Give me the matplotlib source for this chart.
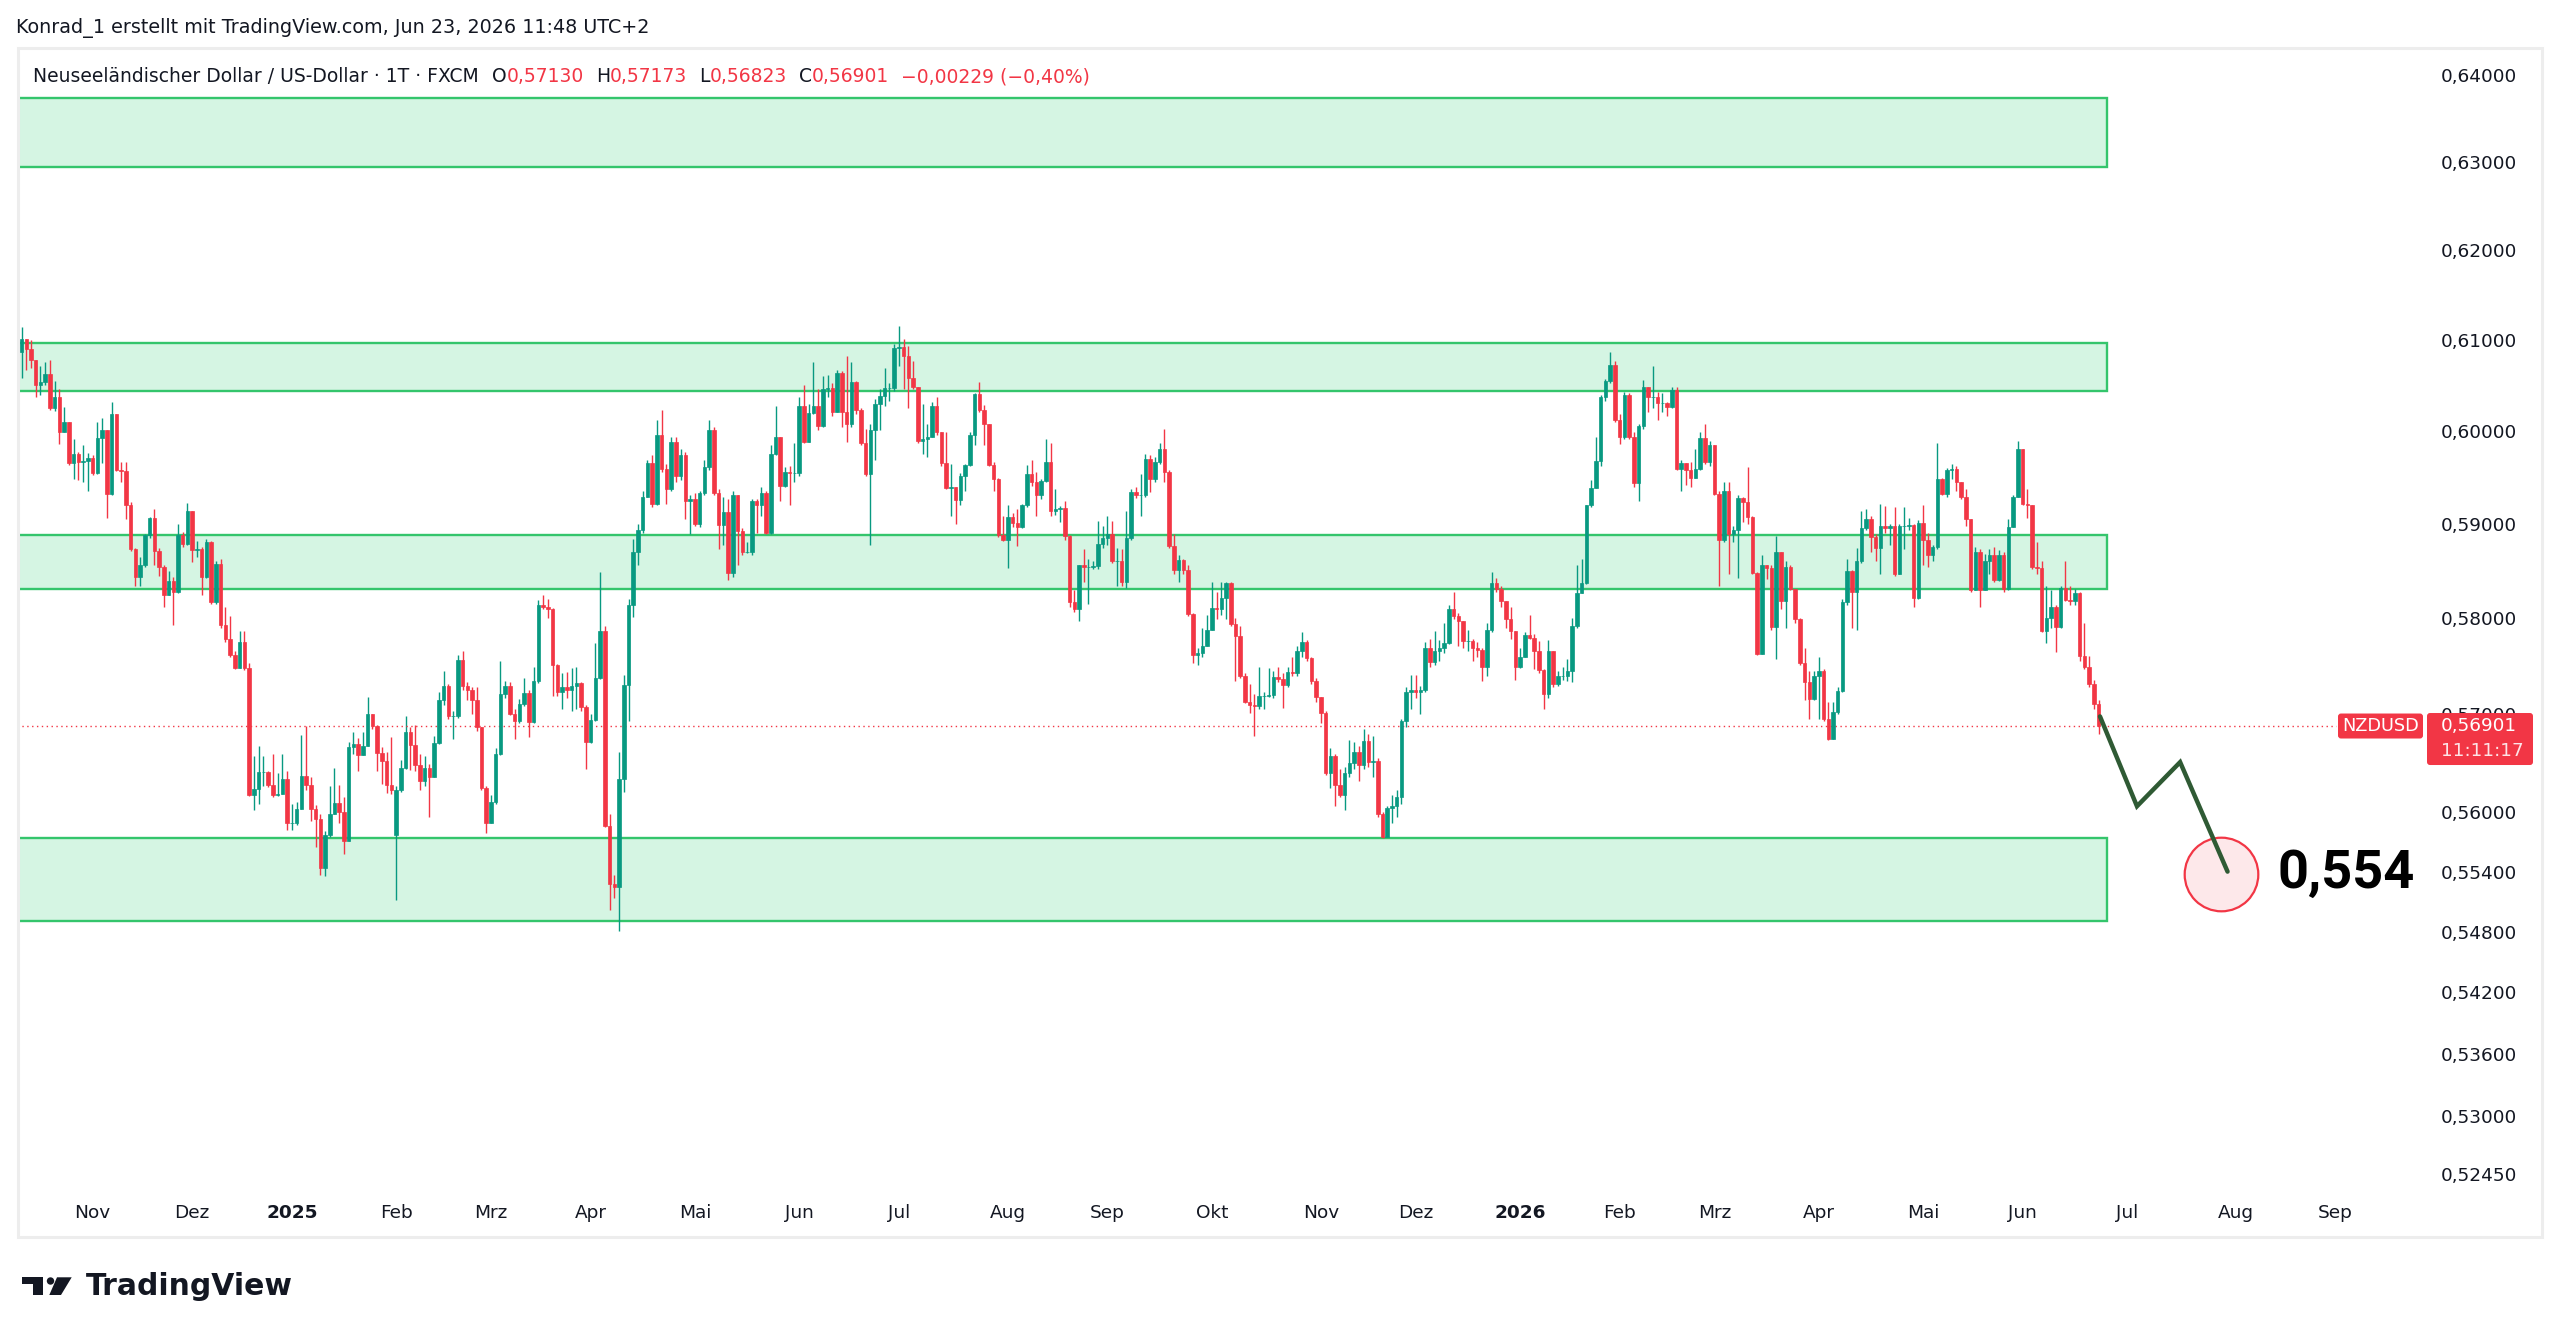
import numpy as np
import pandas as pd
import matplotlib
matplotlib.use('Agg')
import matplotlib.pyplot as plt
from matplotlib import transforms
from matplotlib.patches import Rectangle, FancyBboxPatch, Circle, Polygon

plt.rcParams['font.family'] = ['DejaVu Sans']

W, H = 2560, 1344

# ---------------- data (NZDUSD, 1T, FXCM) ----------------
start_date = '2024-10-11'
end_date = '2026-06-23'
holidays = ['2024-12-25', '2025-01-01', '2025-12-25', '2026-01-01']

first_open = 0.6089
gap_opens = {79: 0.5579}  # Montag-Gap (Feb 2025)

closes = [
    0.6103, 0.6092, 0.6080, 0.6053, 0.6056, 0.6065, 0.6027, 0.6039, 0.6001, 0.6012,
    0.5968, 0.5977, 0.5969, 0.5970, 0.5973, 0.5957, 0.5995, 0.6003, 0.5934, 0.6021,
    0.5960, 0.5959, 0.5922, 0.5876, 0.5846, 0.5858, 0.5890, 0.5909, 0.5873, 0.5856,
    0.5827, 0.5842, 0.5830, 0.5890, 0.5881, 0.5916, 0.5874, 0.5876, 0.5846, 0.5883,
    0.5819, 0.5860, 0.5795, 0.5780, 0.5764, 0.5750, 0.5777, 0.5750, 0.5619, 0.5626,
    0.5643, 0.5643, 0.5630, 0.5619, 0.5620, 0.5636, 0.5591, 0.5591, 0.5605, 0.5639,
    0.5630, 0.5605, 0.5595, 0.5546, 0.5579, 0.5600, 0.5611, 0.5602, 0.5573, 0.5668,
    0.5672, 0.5660, 0.5670, 0.5702, 0.5690, 0.5662, 0.5654, 0.5630, 0.5625, 0.5625,
    0.5647, 0.5684, 0.5671, 0.5650, 0.5634, 0.5647, 0.5638, 0.5673, 0.5717, 0.5732,
    0.5700, 0.5700, 0.5759, 0.5732, 0.5727, 0.5717, 0.5689, 0.5627, 0.5591, 0.5612,
    0.5661, 0.5723, 0.5732, 0.5702, 0.5695, 0.5713, 0.5724, 0.5694, 0.5737, 0.5816,
    0.5814, 0.5812, 0.5753, 0.5725, 0.5730, 0.5727, 0.5732, 0.5735, 0.5710, 0.5674,
    0.5696, 0.5740, 0.5789, 0.5588, 0.5530, 0.5527, 0.5636, 0.5733, 0.5816, 0.5872,
    0.5896, 0.5931, 0.5968, 0.5924, 0.5998, 0.5961, 0.5940, 0.5990, 0.5954, 0.5976,
    0.5927, 0.5929, 0.5902, 0.5935, 0.5963, 0.6004, 0.5935, 0.5901, 0.5915, 0.5850,
    0.5933, 0.5895, 0.5872, 0.5872, 0.5927, 0.5922, 0.5935, 0.5893, 0.5978, 0.5996,
    0.5943, 0.5958, 0.5957, 0.5957, 0.6030, 0.5991, 0.6022, 0.6030, 0.6008, 0.6048,
    0.6049, 0.6023, 0.6066, 0.6023, 0.6010, 0.6056, 0.6025, 0.5989, 0.5956, 0.6003,
    0.6032, 0.6041, 0.6049, 0.6049, 0.6093, 0.6095, 0.6084, 0.6060, 0.6050, 0.5992,
    0.5994, 0.5996, 0.6030, 0.6001, 0.5968, 0.5941, 0.5942, 0.5928, 0.5954, 0.5966,
    0.5998, 0.6043, 0.6025, 0.6010, 0.5966, 0.5951, 0.5890, 0.5885, 0.5910, 0.5903,
    0.5899, 0.5922, 0.5956, 0.5947, 0.5933, 0.5948, 0.5969, 0.5916, 0.5918, 0.5919,
    0.5889, 0.5819, 0.5812, 0.5858, 0.5856, 0.5856, 0.5857, 0.5881, 0.5887, 0.5892,
    0.5863, 0.5863, 0.5841, 0.5887, 0.5937, 0.5933, 0.5933, 0.5972, 0.5950, 0.5969,
    0.5983, 0.5958, 0.5879, 0.5853, 0.5864, 0.5853, 0.5807, 0.5764, 0.5766, 0.5773,
    0.5790, 0.5813, 0.5812, 0.5824, 0.5839, 0.5796, 0.5784, 0.5742, 0.5715, 0.5712,
    0.5711, 0.5721, 0.5721, 0.5722, 0.5741, 0.5739, 0.5733, 0.5746, 0.5745, 0.5768,
    0.5777, 0.5761, 0.5737, 0.5720, 0.5704, 0.5642, 0.5659, 0.5630, 0.5619, 0.5642,
    0.5652, 0.5663, 0.5650, 0.5675, 0.5653, 0.5654, 0.5600, 0.5577, 0.5606, 0.5608,
    0.5617, 0.5695, 0.5725, 0.5727, 0.5725, 0.5727, 0.5771, 0.5756, 0.5768, 0.5771,
    0.5776, 0.5812, 0.5805, 0.5799, 0.5778, 0.5778, 0.5771, 0.5769, 0.5751, 0.5790,
    0.5839, 0.5833, 0.5820, 0.5801, 0.5789, 0.5751, 0.5762, 0.5785, 0.5782, 0.5768,
    0.5748, 0.5723, 0.5768, 0.5734, 0.5742, 0.5742, 0.5747, 0.5794, 0.5829, 0.5839,
    0.5922, 0.5941, 0.5970, 0.6040, 0.6057, 0.6075, 0.6014, 0.5996, 0.6042, 0.5996,
    0.5946, 0.6008, 0.6050, 0.6040, 0.6040, 0.6033, 0.6033, 0.6029, 0.6047, 0.5961,
    0.5968, 0.5960, 0.5952, 0.5961, 0.5995, 0.5969, 0.5987, 0.5934, 0.5885, 0.5938,
    0.5892, 0.5896, 0.5930, 0.5926, 0.5910, 0.5850, 0.5765, 0.5858, 0.5855, 0.5793,
    0.5872, 0.5820, 0.5856, 0.5833, 0.5802, 0.5755, 0.5736, 0.5718, 0.5742, 0.5747,
    0.5697, 0.5677, 0.5705, 0.5726, 0.5819, 0.5852, 0.5830, 0.5863, 0.5898, 0.5907,
    0.5888, 0.5877, 0.5900, 0.5898, 0.5900, 0.5849, 0.5900, 0.5900, 0.5901, 0.5824,
    0.5903, 0.5885, 0.5869, 0.5878, 0.5951, 0.5934, 0.5960, 0.5961, 0.5947, 0.5931,
    0.5908, 0.5832, 0.5872, 0.5832, 0.5863, 0.5869, 0.5843, 0.5869, 0.5833, 0.5899,
    0.5931, 0.5983, 0.5924, 0.5923, 0.5856, 0.5855, 0.5789, 0.5803, 0.5814, 0.5793,
    0.5834, 0.5822, 0.5820, 0.5829, 0.5763, 0.5751, 0.5734, 0.5713, 0.56901,
]

highs = [
    0.6117, 0.6101, 0.6102, 0.6078, 0.6073, 0.6078, 0.6080, 0.6057, 0.6048, 0.6029,
    0.6012, 0.5994, 0.5980, 0.5987, 0.5979, 0.5976, 0.6012, 0.6017, 0.6003, 0.6034,
    0.6021, 0.5969, 0.5969, 0.5926, 0.5877, 0.5867, 0.5891, 0.5910, 0.5918, 0.5877,
    0.5858, 0.5852, 0.5846, 0.5902, 0.5894, 0.5925, 0.5907, 0.5884, 0.5878, 0.5886,
    0.5884, 0.5863, 0.5865, 0.5814, 0.5805, 0.5768, 0.5789, 0.5789, 0.5755, 0.5659,
    0.5670, 0.5659, 0.5644, 0.5661, 0.5642, 0.5661, 0.5644, 0.5610, 0.5612, 0.5681,
    0.5690, 0.5638, 0.5609, 0.5600, 0.5583, 0.5629, 0.5647, 0.5630, 0.5617, 0.5674,
    0.5684, 0.5678, 0.5684, 0.5720, 0.5702, 0.5691, 0.5668, 0.5663, 0.5679, 0.5629,
    0.5655, 0.5700, 0.5689, 0.5691, 0.5661, 0.5659, 0.5651, 0.5680, 0.5725, 0.5747,
    0.5734, 0.5706, 0.5764, 0.5768, 0.5736, 0.5730, 0.5730, 0.5689, 0.5629, 0.5619,
    0.5667, 0.5757, 0.5737, 0.5736, 0.5708, 0.5718, 0.5740, 0.5727, 0.5751, 0.5822,
    0.5827, 0.5823, 0.5813, 0.5754, 0.5745, 0.5746, 0.5750, 0.5751, 0.5736, 0.5712,
    0.5702, 0.5776, 0.5851, 0.5794, 0.5600, 0.5539, 0.5663, 0.5743, 0.5823, 0.5886,
    0.5902, 0.5938, 0.5971, 0.5976, 0.6014, 0.6025, 0.5967, 0.5996, 0.5996, 0.5983,
    0.5980, 0.5933, 0.5935, 0.5938, 0.5971, 0.6014, 0.6007, 0.5940, 0.5931, 0.5929,
    0.5938, 0.5914, 0.5898, 0.5883, 0.5929, 0.5929, 0.5942, 0.5938, 0.5987, 0.6030,
    0.5996, 0.5963, 0.5965, 0.5989, 0.6040, 0.6053, 0.6032, 0.6078, 0.6048, 0.6063,
    0.6064, 0.6055, 0.6069, 0.6068, 0.6085, 0.6078, 0.6057, 0.6028, 0.6005, 0.6010,
    0.6037, 0.6048, 0.6071, 0.6055, 0.6098, 0.6118, 0.6103, 0.6096, 0.6079, 0.6050,
    0.6032, 0.6010, 0.6034, 0.6040, 0.5987, 0.6001, 0.5967, 0.5940, 0.5957, 0.5967,
    0.6001, 0.6044, 0.6056, 0.6031, 0.6010, 0.5969, 0.5952, 0.5911, 0.5922, 0.5914,
    0.5918, 0.5924, 0.5966, 0.5971, 0.5958, 0.5951, 0.5994, 0.5989, 0.5940, 0.5921,
    0.5927, 0.5890, 0.5832, 0.5859, 0.5876, 0.5865, 0.5863, 0.5905, 0.5900, 0.5911,
    0.5905, 0.5877, 0.5876, 0.5916, 0.5940, 0.5942, 0.5956, 0.5978, 0.5976, 0.5974,
    0.5989, 0.6005, 0.5960, 0.5891, 0.5869, 0.5865, 0.5858, 0.5808, 0.5771, 0.5792,
    0.5806, 0.5840, 0.5830, 0.5841, 0.5841, 0.5841, 0.5803, 0.5794, 0.5745, 0.5734,
    0.5723, 0.5751, 0.5725, 0.5750, 0.5747, 0.5751, 0.5745, 0.5751, 0.5762, 0.5773,
    0.5788, 0.5779, 0.5762, 0.5740, 0.5719, 0.5706, 0.5667, 0.5661, 0.5646, 0.5648,
    0.5676, 0.5674, 0.5670, 0.5687, 0.5682, 0.5680, 0.5657, 0.5602, 0.5608, 0.5619,
    0.5625, 0.5697, 0.5730, 0.5743, 0.5743, 0.5732, 0.5777, 0.5781, 0.5789, 0.5779,
    0.5797, 0.5816, 0.5830, 0.5808, 0.5793, 0.5790, 0.5780, 0.5777, 0.5771, 0.5797,
    0.5851, 0.5845, 0.5836, 0.5820, 0.5814, 0.5789, 0.5771, 0.5788, 0.5806, 0.5786,
    0.5778, 0.5749, 0.5779, 0.5768, 0.5747, 0.5751, 0.5760, 0.5803, 0.5858, 0.5865,
    0.5923, 0.5949, 0.5996, 0.6042, 0.6059, 0.6089, 0.6079, 0.6021, 0.6045, 0.6044,
    0.6001, 0.6010, 0.6058, 0.6050, 0.6073, 0.6045, 0.6044, 0.6034, 0.6050, 0.6050,
    0.5971, 0.5967, 0.5969, 0.5983, 0.6001, 0.6010, 0.5992, 0.5951, 0.5938, 0.5947,
    0.5947, 0.5900, 0.5933, 0.5931, 0.5963, 0.5911, 0.5851, 0.5869, 0.5858, 0.5858,
    0.5889, 0.5872, 0.5863, 0.5858, 0.5823, 0.5803, 0.5771, 0.5747, 0.5747, 0.5762,
    0.5749, 0.5715, 0.5715, 0.5730, 0.5823, 0.5865, 0.5853, 0.5877, 0.5916, 0.5918,
    0.5911, 0.5891, 0.5924, 0.5921, 0.5902, 0.5920, 0.5902, 0.5920, 0.5909, 0.5902,
    0.5906, 0.5922, 0.5893, 0.5880, 0.5989, 0.5952, 0.5962, 0.5967, 0.5965, 0.5947,
    0.5940, 0.5908, 0.5878, 0.5876, 0.5870, 0.5876, 0.5878, 0.5874, 0.5872, 0.5907,
    0.5933, 0.5992, 0.5983, 0.5940, 0.5922, 0.5883, 0.5863, 0.5836, 0.5832, 0.5816,
    0.5836, 0.5863, 0.5836, 0.5833, 0.5830, 0.5797, 0.5763, 0.5738, 0.57173,
]

lows = [
    0.6060, 0.6069, 0.6071, 0.6039, 0.6042, 0.6053, 0.6025, 0.6024, 0.5988, 0.6001,
    0.5966, 0.5951, 0.5949, 0.5947, 0.5938, 0.5955, 0.5956, 0.5968, 0.5909, 0.5933,
    0.5959, 0.5947, 0.5907, 0.5873, 0.5836, 0.5836, 0.5856, 0.5887, 0.5858, 0.5847,
    0.5814, 0.5832, 0.5795, 0.5829, 0.5878, 0.5880, 0.5862, 0.5867, 0.5827, 0.5845,
    0.5817, 0.5817, 0.5792, 0.5777, 0.5762, 0.5749, 0.5751, 0.5748, 0.5618, 0.5604,
    0.5610, 0.5629, 0.5628, 0.5617, 0.5618, 0.5621, 0.5584, 0.5584, 0.5589, 0.5605,
    0.5625, 0.5593, 0.5567, 0.5539, 0.5538, 0.5577, 0.5600, 0.5591, 0.5560, 0.5586,
    0.5661, 0.5644, 0.5660, 0.5670, 0.5687, 0.5644, 0.5631, 0.5621, 0.5620, 0.5514,
    0.5623, 0.5646, 0.5645, 0.5644, 0.5625, 0.5629, 0.5597, 0.5638, 0.5672, 0.5712,
    0.5697, 0.5677, 0.5698, 0.5727, 0.5717, 0.5702, 0.5685, 0.5625, 0.5581, 0.5591,
    0.5610, 0.5660, 0.5719, 0.5701, 0.5677, 0.5693, 0.5711, 0.5679, 0.5693, 0.5735,
    0.5812, 0.5803, 0.5721, 0.5721, 0.5708, 0.5719, 0.5706, 0.5708, 0.5706, 0.5646,
    0.5673, 0.5695, 0.5739, 0.5587, 0.5504, 0.5516, 0.5483, 0.5623, 0.5695, 0.5804,
    0.5858, 0.5893, 0.5933, 0.5920, 0.5922, 0.5958, 0.5924, 0.5938, 0.5947, 0.5949,
    0.5907, 0.5891, 0.5900, 0.5899, 0.5933, 0.5960, 0.5933, 0.5876, 0.5880, 0.5843,
    0.5846, 0.5858, 0.5869, 0.5871, 0.5869, 0.5893, 0.5911, 0.5891, 0.5891, 0.5976,
    0.5927, 0.5942, 0.5922, 0.5947, 0.5954, 0.5989, 0.5991, 0.6021, 0.6003, 0.6007,
    0.6039, 0.6019, 0.6023, 0.6007, 0.5991, 0.6007, 0.6021, 0.5987, 0.5954, 0.5880,
    0.5971, 0.6003, 0.6030, 0.6035, 0.6046, 0.6074, 0.6048, 0.6028, 0.6048, 0.5989,
    0.5977, 0.5974, 0.5996, 0.5998, 0.5965, 0.5940, 0.5911, 0.5902, 0.5922, 0.5938,
    0.5965, 0.5987, 0.6023, 0.5987, 0.5965, 0.5938, 0.5888, 0.5884, 0.5855, 0.5899,
    0.5879, 0.5898, 0.5920, 0.5943, 0.5911, 0.5929, 0.5947, 0.5911, 0.5912, 0.5904,
    0.5885, 0.5814, 0.5809, 0.5799, 0.5841, 0.5817, 0.5854, 0.5854, 0.5877, 0.5880,
    0.5861, 0.5836, 0.5836, 0.5834, 0.5885, 0.5930, 0.5911, 0.5931, 0.5937, 0.5947,
    0.5967, 0.5947, 0.5877, 0.5849, 0.5841, 0.5849, 0.5805, 0.5755, 0.5753, 0.5762,
    0.5773, 0.5790, 0.5802, 0.5806, 0.5802, 0.5794, 0.5737, 0.5740, 0.5714, 0.5704,
    0.5680, 0.5708, 0.5708, 0.5720, 0.5719, 0.5736, 0.5709, 0.5730, 0.5742, 0.5742,
    0.5762, 0.5758, 0.5734, 0.5715, 0.5693, 0.5640, 0.5627, 0.5608, 0.5617, 0.5604,
    0.5638, 0.5646, 0.5634, 0.5646, 0.5648, 0.5638, 0.5597, 0.5576, 0.5579, 0.5591,
    0.5597, 0.5610, 0.5689, 0.5708, 0.5719, 0.5702, 0.5725, 0.5751, 0.5753, 0.5757,
    0.5766, 0.5775, 0.5802, 0.5773, 0.5771, 0.5768, 0.5757, 0.5762, 0.5737, 0.5742,
    0.5788, 0.5830, 0.5814, 0.5792, 0.5781, 0.5738, 0.5750, 0.5762, 0.5780, 0.5749,
    0.5745, 0.5708, 0.5719, 0.5730, 0.5732, 0.5738, 0.5737, 0.5736, 0.5792, 0.5830,
    0.5838, 0.5920, 0.5949, 0.5965, 0.6035, 0.6055, 0.6012, 0.5988, 0.5994, 0.5994,
    0.5942, 0.5927, 0.6005, 0.6023, 0.6027, 0.6014, 0.6023, 0.6019, 0.6027, 0.5960,
    0.5938, 0.5944, 0.5942, 0.5957, 0.5960, 0.5967, 0.5965, 0.5933, 0.5836, 0.5883,
    0.5849, 0.5883, 0.5845, 0.5904, 0.5902, 0.5849, 0.5764, 0.5774, 0.5844, 0.5790,
    0.5760, 0.5812, 0.5792, 0.5832, 0.5797, 0.5753, 0.5717, 0.5697, 0.5717, 0.5697,
    0.5695, 0.5676, 0.5682, 0.5702, 0.5725, 0.5816, 0.5792, 0.5790, 0.5861, 0.5896,
    0.5872, 0.5863, 0.5849, 0.5893, 0.5880, 0.5847, 0.5863, 0.5876, 0.5896, 0.5814,
    0.5823, 0.5858, 0.5856, 0.5863, 0.5876, 0.5933, 0.5931, 0.5951, 0.5938, 0.5929,
    0.5900, 0.5830, 0.5832, 0.5814, 0.5832, 0.5849, 0.5841, 0.5842, 0.5830, 0.5832,
    0.5899, 0.5931, 0.5923, 0.5909, 0.5854, 0.5849, 0.5788, 0.5776, 0.5792, 0.5767,
    0.5792, 0.5820, 0.5816, 0.5816, 0.5758, 0.5749, 0.5730, 0.5708, 0.56823,
]

# Unterstützungs-/Widerstandszonen
zone_lo = [0.5493, 0.5833, 0.6046, 0.6297]
zone_hi = [0.5576, 0.5890, 0.6099, 0.6376]

# Prognosepfad (Handelstage nach der letzten Kerze, Kurs)
fc_days = [0.3, 8.1, 17.2, 27.2]
fc_prices = [0.5700, 0.5608, 0.5653, 0.5542]
target_day = 25.9
target_price = 0.554

price_ticks = [0.64, 0.63, 0.62, 0.61, 0.60, 0.59, 0.58, 0.57, 0.56,
               0.554, 0.548, 0.542, 0.536, 0.53, 0.5245]
month_names = {1: 'Jan', 2: 'Feb', 3: 'Mrz', 4: 'Apr', 5: 'Mai', 6: 'Jun',
               7: 'Jul', 8: 'Aug', 9: 'Sep', 10: 'Okt', 11: 'Nov', 12: 'Dez'}

RED = '#f23645'
GREEN = '#089981'
TXT = '#131722'

# ---------------- prep ----------------
dates = pd.bdate_range(start_date, end_date)
dates = dates[~dates.isin(pd.to_datetime(holidays))]
n = min(len(dates), len(closes), len(highs), len(lows))
c = np.array(closes[:n])
o = np.array([first_open] + closes[:n - 1])
for k, v in gap_opens.items():
    o[k] = v
hi = np.maximum(np.array(highs[:n]), np.maximum(o, c))
lo = np.minimum(np.array(lows[:n]), np.minimum(o, c))
x = np.arange(n)
up = c >= o
cols = np.where(up, GREEN, RED)

future = pd.bdate_range(pd.Timestamp(end_date) + pd.Timedelta(days=1), '2026-10-30')
timeline = dates[:n].append(future)

# ---------------- figure ----------------
fig = plt.figure(figsize=(W / 100, H / 100), dpi=100)
fig.patch.set_facecolor('white')

def fx(px):
    return px / W

def fy(py):
    return 1 - py / H

ax = fig.add_axes([fx(19), fy(1236), fx(2541) - fx(19), fy(49) - fy(1236)])
ax.set_yscale('log')
ax.set_xlim(-0.53, 531.3)
ax.set_ylim(0.51880, 0.64325)
for s in ax.spines.values():
    s.set_visible(False)
ax.set_xticks([])
ax.set_yticks([])
ax.set_yticks([], minor=True)
ax.set_facecolor('white')

# Zonen
zone_end = 439.7
for zl, zh in zip(zone_lo, zone_hi):
    ax.add_patch(Rectangle((-2, zl), zone_end + 2, zh - zl, facecolor='#d5f5e3',
                           edgecolor='#34c56c', lw=1.7, zorder=1))

# Kerzen
ax.vlines(x, lo, hi, colors=cols, lw=1.0, zorder=2)
ax.bar(x, np.abs(c - o), bottom=np.minimum(o, c), width=0.74, color=cols,
       edgecolor=cols, linewidth=0.5, zorder=3)

# aktuelle Kurslinie
last = c[-1]
ax.plot([-1, 488], [last, last], color=RED, lw=1.0, ls=(0, (1, 2.5)), zorder=2)

# Prognose
fc_x = [x[-1] + d for d in fc_days]
ax.plot(x[-1] + target_day, target_price, 'o', ms=53, mfc='#fde8ea', mec=RED,
        mew=1.6, zorder=4)
ax.plot(fc_x, fc_prices, color='#2f5a34', lw=3.2, solid_capstyle='round',
        solid_joinstyle='miter', zorder=5)
ax.text(x[-1] + 37.7, target_price, '0,554', fontsize=39, fontweight='bold',
        family=['Roboto', 'DejaVu Sans'], color='black', va='center', ha='left',
        zorder=6)

# Preisachse
ytr = transforms.blended_transform_factory(ax.transAxes, ax.transData)
for v in price_ticks:
    ax.text(0.9604, v, f'{v:.5f}'.replace('.', ','), transform=ytr, fontsize=13.3,
            color=TXT, va='center', ha='left', zorder=2)

# Zeitachse
xtr = transforms.blended_transform_factory(ax.transData, ax.transAxes)
pos = pd.Series(np.arange(len(timeline)), index=timeline)
firsts = pos.groupby([timeline.year, timeline.month]).first()
for (yr, mo), idx in list(firsts.items())[1:]:
    if idx > 500:
        continue
    if mo == 1:
        ax.text(idx, 0.0194, str(yr), transform=xtr, fontsize=13.3, fontweight='bold',
                color=TXT, ha='center', va='center')
    else:
        ax.text(idx, 0.0194, month_names[mo], transform=xtr, fontsize=13.3,
                color=TXT, ha='center', va='center')

# Kurslabels rechts
idt = transforms.IdentityTransform()
py = ax.transData.transform((0, last))[1]
fig.add_artist(FancyBboxPatch((2338, py - 12.5), 85, 25,
                              boxstyle='round,pad=0,rounding_size=3',
                              fc=RED, ec='none', transform=idt, zorder=10))
fig.add_artist(FancyBboxPatch((2427, py - 39), 106, 52,
                              boxstyle='round,pad=0,rounding_size=3',
                              fc=RED, ec='none', transform=idt, zorder=10))
fig.text(2380.5 / W, py / H, 'NZDUSD', fontsize=12.8, color='white',
         ha='center', va='center', zorder=11)
fig.text(2441 / W, py / H, f'{last:.5f}'.replace('.', ','), fontsize=13.3,
         color='white', ha='left', va='center', zorder=11)
fig.text(2441 / W, (py - 25) / H, '11:11:17', fontsize=13.3, color='#fde3e6',
         ha='left', va='center', zorder=11)

# Rahmen
fig.add_artist(Rectangle((18, H - 1237), 2524, 1189, fill=False, ec='#ededed',
                         lw=2.2, transform=idt, zorder=12))

# Kopfzeilen
fig.text(fx(16), fy(28), 'Konrad_1 erstellt mit TradingView.com, Jun 23, 2026 11:48 UTC+2',
         fontsize=13.8, color=TXT, ha='left', va='center')

chg = c[-1] - c[-2]
pct = chg / c[-2] * 100
fmt = lambda v: f'{v:.5f}'.replace('.', ',')
parts = [
    ('Neuseeländischer Dollar / US-Dollar · 1T · FXCM', TXT, 13),
    ('O', TXT, 0), (fmt(o[-1]), RED, 12),
    ('H', TXT, 0), (fmt(hi[-1]), RED, 12),
    ('L', TXT, 0), (fmt(lo[-1]), RED, 12),
    ('C', TXT, 0), (fmt(c[-1]), RED, 12),
    (f'{chg:+.5f} ({pct:+.2f}%)'.replace('.', ',').replace('-', '\u2212'), RED, 0),
]
r = fig.canvas.get_renderer()
xx = 33
for txt, col, gap in parts:
    t = fig.text(fx(xx), fy(77), txt, fontsize=13.5, color=col, ha='left', va='center')
    xx += t.get_window_extent(renderer=r).width + gap

# TradingView-Logo
fig.add_artist(Polygon([(21.7, H - 1277.3), (42.7, H - 1277.3), (42.7, H - 1295),
                        (32.7, H - 1295), (32.7, H - 1284.3), (21.7, H - 1284.3)],
                       closed=True, fc=TXT, ec='none', transform=idt))
fig.add_artist(Circle((50.5, H - 1281), 3.7, fc=TXT, ec='none', transform=idt))
fig.add_artist(Polygon([(57, H - 1277.3), (71.7, H - 1277.3), (61, H - 1295),
                        (49.3, H - 1295)], closed=True, fc=TXT, ec='none',
                       transform=idt))
fig.text(fx(86), fy(1295), 'TradingView', fontsize=21.5, fontweight='bold',
         color=TXT, ha='left', va='baseline')

fig.savefig('out.png', dpi=100, facecolor='white')
